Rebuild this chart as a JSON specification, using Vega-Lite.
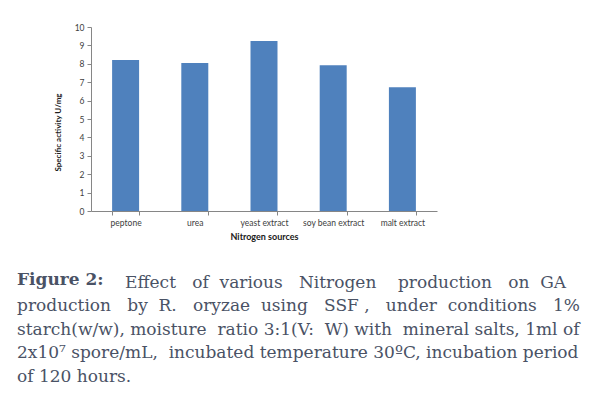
{
  "$schema": "https://vega.github.io/schema/vega-lite/v6.json",
  "width": 346,
  "height": 184,
  "autosize": {"type": "none"},
  "padding": {"left": 91, "top": 27, "right": 163, "bottom": 184},
  "background": "white",
  "data": {"values": [
    {"source": "peptone", "activity": 8.2},
    {"source": "urea", "activity": 8.04},
    {"source": "yeast extract", "activity": 9.24},
    {"source": "soy bean extract", "activity": 7.92},
    {"source": "malt extract", "activity": 6.72}
  ]},
  "title": {
    "text": "Figure 2:",
    "subtitle": [
      "\u200b\u00a0\u00a0\u00a0\u00a0\u00a0\u00a0\u00a0\u00a0\u00a0\u00a0\u00a0\u00a0\u00a0\u00a0\u00a0\u00a0\u00a0\u00a0\u00a0\u00a0Effect\u00a0\u00a0\u00a0of\u00a0\u00a0various\u00a0\u00a0\u00a0Nitrogen\u00a0\u00a0\u00a0\u00a0production\u00a0\u00a0\u00a0on\u00a0\u00a0GA",
      "production\u00a0\u00a0\u00a0by\u00a0\u00a0R.\u00a0\u00a0\u00a0oryzae\u00a0\u00a0using\u00a0\u00a0\u00a0SSF ,\u00a0\u00a0\u00a0under\u00a0\u00a0conditions\u00a0\u00a0\u00a01%",
      "starch(w/w), moisture\u00a0\u00a0ratio 3:1(V:\u00a0\u00a0W) with\u00a0\u00a0mineral salts, 1ml of",
      "2x10⁷ spore/mL,\u00a0\u00a0incubated temperature 30ºC, incubation period",
      "of 120 hours."
    ],
    "orient": "bottom",
    "anchor": "start",
    "frame": "group",
    "dx": -74,
    "offset": 30,
    "font": "DejaVu Serif",
    "fontSize": 17,
    "fontWeight": "bold",
    "color": "#4a5265",
    "subtitleFont": "DejaVu Serif",
    "subtitleFontSize": 17,
    "subtitleFontWeight": "normal",
    "subtitleColor": "#4a5265",
    "subtitleLineHeight": 23.5,
    "subtitlePadding": -14
  },
  "mark": {"type": "bar", "color": "#4F81BD"},
  "encoding": {
    "x": {
      "field": "source", "type": "nominal", "sort": null,
      "scale": {"paddingInner": 0.61, "paddingOuter": 0.305},
      "axis": {
        "title": "Nitrogen sources",
        "labelAngle": 0,
        "tickBand": "extent",
        "domainColor": "#868686",
        "tickColor": "#868686",
        "tickSize": 4,
        "labelFont": "Lato",
        "labelFontSize": 8.5,
        "labelColor": "#404040",
        "labelPadding": 3,
        "titleFont": "Lato",
        "titleFontSize": 9,
        "titleFontWeight": "bold",
        "titleColor": "#202020",
        "titlePadding": 6
      }
    },
    "y": {
      "field": "activity", "type": "quantitative",
      "scale": {"domain": [0, 10], "nice": false},
      "axis": {
        "title": "Specific activity U/mg",
        "values": [0,1,2,3,4,5,6,7,8,9,10],
        "grid": false,
        "domainColor": "#868686",
        "tickColor": "#868686",
        "tickSize": 4,
        "labelFont": "Lato",
        "labelFontSize": 8.5,
        "labelColor": "#404040",
        "labelPadding": 3,
        "titleFont": "Lato",
        "titleFontSize": 8,
        "titleFontWeight": "bold",
        "titleColor": "#202020",
        "titlePadding": 12,
        "titleY": 105
      }
    }
  },
  "config": {"view": {"stroke": null}}
}
